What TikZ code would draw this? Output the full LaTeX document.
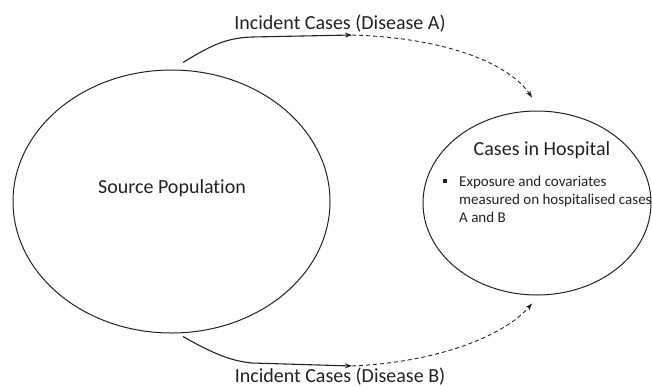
\documentclass[tikz,border=0pt]{standalone}
\usepackage{fontspec}
\setmainfont{Carlito}[Ligatures=NoCommon]
\usetikzlibrary{shapes.geometric,arrows.meta}
\definecolor{ink}{HTML}{222222}
\tikzset{
  circ/.style={draw=ink, line width=1pt, shape=ellipse, inner sep=0pt},
  solidarr/.style={draw=ink, line width=1.1pt, -{Stealth[length=7pt,width=5pt]}},
  dasharr/.style={draw=ink, line width=0.9pt, dash pattern=on 4pt off 3pt, -{Stealth[length=7pt,width=5pt]}},
  lbl/.style={text=ink, font=\fontsize{20}{24}\selectfont, inner sep=0pt, anchor=base},
  small/.style={text=ink, font=\fontsize{15}{18}\selectfont, inner sep=0pt, align=left}
}
\begin{document}
\begin{tikzpicture}[x=1pt,y=-1pt]
\useasboundingbox (0,0) rectangle (652,386);
\node[circ, minimum width=317pt, minimum height=263pt] (src) at (171.5,201.5) {};
\node[circ, minimum width=228pt, minimum height=184pt] (hosp) at (537,203) {};
\node[lbl] (srct) at (172,193) {Source Population};
\node[lbl] (hospt) at (542,155) {Cases in Hospital};
\node[small, anchor=base west] (bt) at (459,222) {Exposure and covariates\\measured on hospitalised cases\\A and B};
\node[fill=ink, minimum size=4pt, inner sep=0pt] (bul) at (445,181) {};
\node[lbl] (la) at (340,29.5) {Incident Cases (Disease A)};
\node[lbl] (lb) at (340,382) {Incident Cases (Disease B)};
\coordinate (ma) at (352,35);
\coordinate (mb) at (352,366);
\draw[solidarr] ([shift={(11.5,-7)}]src.north) .. controls (210,46) and (225,38) .. (252,37) -- (ma);
\draw[dasharr] (ma) .. controls (450,38) and (510,65) .. ([shift={(-5,-13)}]hosp.north);
\draw[solidarr] ([shift={(11.5,3)}]src.south) .. controls (210,352) and (230,361) .. (252,363) -- (mb);
\draw[dasharr] (mb) .. controls (440,362) and (505,335) .. ([shift={(-5,8)}]hosp.south);
\end{tikzpicture}
\end{document}
